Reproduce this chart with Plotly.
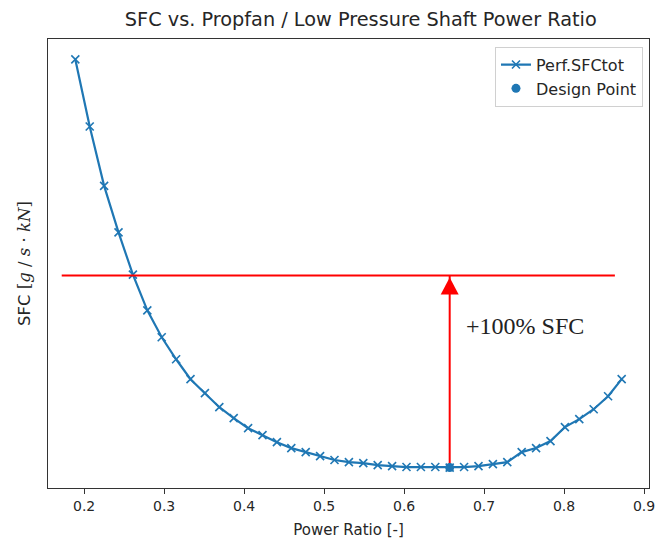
import plotly.graph_objects as go

# ---- data ----
power_ratio = [0.189, 0.207, 0.225, 0.243, 0.261, 0.279, 0.297, 0.315, 0.333, 0.351,
               0.369, 0.387, 0.405, 0.423, 0.441, 0.459, 0.477, 0.495, 0.513, 0.531,
               0.549, 0.567, 0.585, 0.603, 0.621, 0.639, 0.657, 0.675, 0.693, 0.711,
               0.729, 0.747, 0.765, 0.783, 0.801, 0.819, 0.837, 0.855, 0.872]
sfc_tot = [43.73, 38.84, 34.52, 31.13, 28.05, 25.45, 23.49, 21.89, 20.44, 19.42,
           18.40, 17.60, 16.87, 16.36, 15.85, 15.42, 15.13, 14.84, 14.55, 14.40,
           14.33, 14.18, 14.11, 14.04, 14.04, 14.04, 14.00, 14.04, 14.11, 14.25,
           14.40, 15.13, 15.42, 15.93, 16.95, 17.53, 18.25, 19.20, 20.44]
design_x = [0.657]
design_y = [14.00]
sfc_limit = 28.0          # +100 % SFC level (2 x design SFC)
limit_x = [0.172, 0.8635]  # extent of the red horizontal line
label_text = "+100% SFC"
label_pos = [0.6753, 24.3]
x_ticks = [0.2, 0.3, 0.4, 0.5, 0.6, 0.7, 0.8, 0.9]
x_tick_labels = ["0.2", "0.3", "0.4", "0.5", "0.6", "0.7", "0.8", "0.9"]

BLUE = "#1f77b4"
RED = "#ff0000"

# axis ranges with matplotlib-like 5% margins
xmin, xmax = min(power_ratio), max(power_ratio)
ymin, ymax = min(sfc_tot), max(sfc_tot)
dx, dy = (xmax - xmin) * 0.05, (ymax - ymin) * 0.05

fig = go.Figure()
fig.add_trace(go.Scatter(
    x=power_ratio, y=sfc_tot, mode="lines+markers", name="Perf.SFCtot",
    line=dict(color=BLUE, width=2.2),
    marker=dict(symbol="x-thin", size=8, color=BLUE, line=dict(color=BLUE, width=1.6)),
))
fig.add_trace(go.Scatter(
    x=design_x, y=design_y, mode="markers", name="Design Point",
    marker=dict(symbol="circle", size=9, color=BLUE),
))

# red horizontal line
fig.add_shape(type="line", x0=limit_x[0], x1=limit_x[1], y0=sfc_limit, y1=sfc_limit,
              xref="x", yref="y", line=dict(color=RED, width=2), layer="above")
# vertical arrow shaft (under the design point marker)
fig.add_shape(type="line", x0=design_x[0], x1=design_x[0], y0=design_y[0], y1=sfc_limit,
              xref="x", yref="y", line=dict(color=RED, width=2), layer="below")
# arrow head (pixel-sized triangle anchored at the arrow tip)
fig.add_shape(type="path", xref="x", yref="y", xsizemode="pixel", ysizemode="pixel",
              xanchor=design_x[0], yanchor=sfc_limit,
              path="M -9,-19 L 9,-19 L 0,-2 Z",
              fillcolor=RED, line=dict(color=RED, width=0), layer="above")

fig.add_annotation(x=label_pos[0], y=label_pos[1], xref="x", yref="y", text=label_text,
                   showarrow=False, xanchor="left", yanchor="middle",
                   font=dict(family="Liberation Serif", size=24, color="#222222"))

axis_common = dict(showline=True, linecolor="#333333", linewidth=1.2, mirror=True,
                   showgrid=False, zeroline=False, automargin=False)
fig.update_layout(
    width=656, height=545,
    margin=dict(l=48, r=7, t=39, b=57, autoexpand=False),
    paper_bgcolor="white", plot_bgcolor="white",
    font=dict(family="DejaVu Sans", size=14, color="#262626"),
    title=dict(text="SFC vs. Propfan / Low Pressure Shaft Power Ratio",
               x=0.55, xanchor="center", y=1 - 19 / 545, yanchor="middle",
               yref="container", font=dict(size=19.3, color="#262626")),
    xaxis=dict(range=[xmin - dx, xmax + dx], tickmode="array",
               tickvals=x_ticks, ticktext=x_tick_labels, ticklabeloverflow="allow",
               ticks="outside", ticklen=5, tickwidth=1.2, tickcolor="#333333",
               tickfont=dict(size=14),
               title=dict(text="Power Ratio [-]", standoff=11, font=dict(size=15)),
               **axis_common),
    yaxis=dict(range=[ymin - dy, ymax + dy], showticklabels=False, ticks="",
               title=dict(text="SFC <span style=\"font-family:'DejaVu Serif'\">[<i>g</i> / <i>s</i> · <i>kN</i>]</span>",
                          standoff=12, font=dict(size=16.5)),
               **axis_common),
    legend=dict(x=0.99, y=0.983, xanchor="right", yanchor="top",
                bgcolor="rgba(255,255,255,0.8)", bordercolor="#d0d0d0", borderwidth=1,
                font=dict(size=16), itemwidth=30, tracegroupgap=0),
    showlegend=True,
)

fig.write_html("out.html")
